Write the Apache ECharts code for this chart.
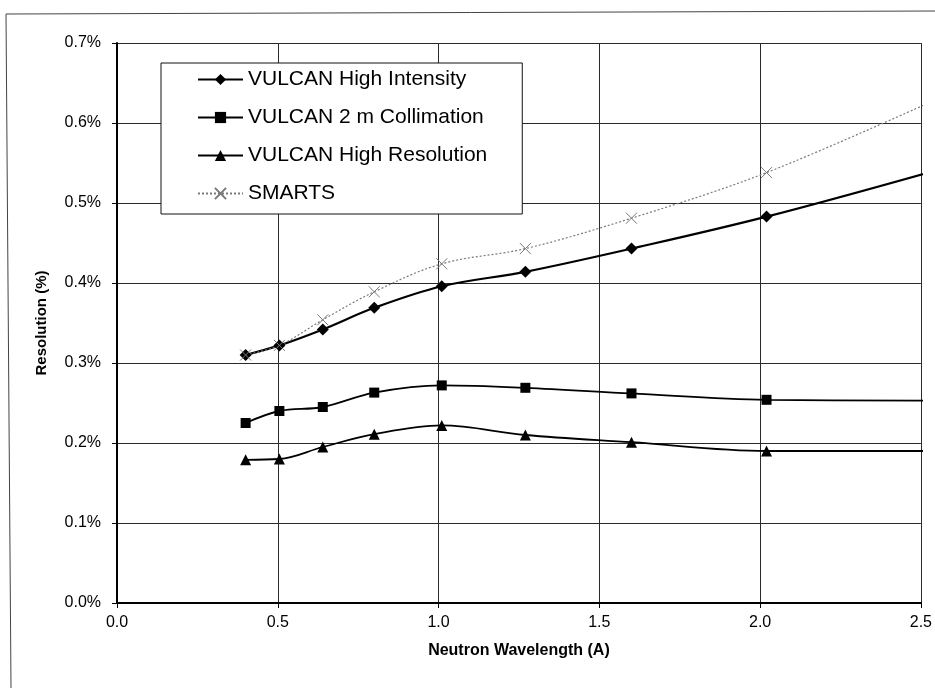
<!DOCTYPE html>
<html>
<head>
<meta charset="utf-8">
<script src="https://cdn.jsdelivr.net/npm/echarts@6/dist/echarts.min.js"></script>
<style>
html,body{margin:0;padding:0;background:#fff;}
#chart{width:935px;height:688px;}
</style>
</head>
<body>
<div id="chart"></div>
<script>
// Neutron wavelength (A)
const wavelengths = [0.40, 0.505, 0.64, 0.80, 1.01, 1.27, 1.60, 2.02, 2.54];
// Resolution (%)
const highIntensity  = [0.310, 0.322, 0.342, 0.369, 0.396, 0.414, 0.443, 0.483, 0.540];
const collimation2m  = [0.225, 0.240, 0.245, 0.263, 0.272, 0.269, 0.262, 0.254, 0.253];
const highResolution = [0.179, 0.180, 0.195, 0.211, 0.222, 0.210, 0.201, 0.190, 0.190];
const smarts         = [0.310, 0.322, 0.354, 0.389, 0.424, 0.443, 0.481, 0.538, 0.628];

const seriesNames = ['VULCAN High Intensity', 'VULCAN 2 m Collimation', 'VULCAN High Resolution', 'SMARTS'];
const xTicks = { min: 0, max: 2.5, interval: 0.5 };
const yTicks = { min: 0, max: 0.7, interval: 0.1 };

const FONT = '"Liberation Sans", Arial, sans-serif';
const pairs = ys => wavelengths.map((x, i) => [x, ys[i]]);
const sizeFn = s => (v => v[0] > xTicks.max ? 0 : s);

const chart = echarts.init(document.getElementById('chart'), null, { renderer: 'canvas' });
chart.setOption({
  backgroundColor: '#fff',
  animation: false,
  textStyle: { fontFamily: FONT, color: '#000' },
  grid: { left: 117, right: 13, top: 43, bottom: 85, containLabel: false },
  graphic: [{
    type: 'polyline',
    shape: { points: [[11, 688], [6, 14], [935, 11]] },
    style: { stroke: '#444', lineWidth: 1, fill: null },
    silent: true
  }],
  legend: {
    orient: 'vertical',
    left: 161, top: 63,
    backgroundColor: '#fff',
    borderColor: '#111', borderWidth: 1,
    padding: [6, 35, 10, 36],
    itemWidth: 45, itemHeight: 14, itemGap: 17,
    textStyle: { fontFamily: FONT, fontSize: 21, color: '#000', lineHeight: 20 },
    data: seriesNames
  },
  xAxis: {
    type: 'value', min: xTicks.min, max: xTicks.max, interval: xTicks.interval,
    name: 'Neutron Wavelength (A)', nameLocation: 'middle', nameGap: 40,
    nameTextStyle: { fontFamily: FONT, fontSize: 16, fontWeight: 'bold', color: '#000' },
    axisLine: { show: true, onZero: false, lineStyle: { color: '#000', width: 2 } },
    axisTick: { show: true, length: 5, lineStyle: { color: '#000' } },
    axisLabel: { fontFamily: FONT, fontSize: 16, color: '#000', margin: 12, formatter: v => v.toFixed(1) },
    splitLine: { show: true, lineStyle: { color: '#2a2a2a', width: 1 } }
  },
  yAxis: {
    type: 'value', min: yTicks.min, max: yTicks.max, interval: yTicks.interval,
    name: 'Resolution (%)', nameLocation: 'middle', nameGap: 68,
    nameTextStyle: { fontFamily: FONT, fontSize: 15, fontWeight: 'bold', color: '#000' },
    axisLine: { show: true, lineStyle: { color: '#000', width: 2 } },
    axisTick: { show: true, length: 5, lineStyle: { color: '#000' } },
    axisLabel: { fontFamily: FONT, fontSize: 16, color: '#000', margin: 16, formatter: v => v.toFixed(1) + '%' },
    splitLine: { show: true, lineStyle: { color: '#2a2a2a', width: 1 } }
  },
  series: [
    {
      name: seriesNames[0], type: 'line', data: pairs(highIntensity), smooth: 0.35, clip: false,
      symbol: 'diamond', symbolSize: sizeFn(12),
      lineStyle: { color: '#000', width: 2.2 }, itemStyle: { color: '#000' }
    },
    {
      name: seriesNames[1], type: 'line', data: pairs(collimation2m), smooth: 0.35, clip: false,
      symbol: 'rect', symbolSize: sizeFn(10),
      lineStyle: { color: '#000', width: 1.8 }, itemStyle: { color: '#000' }
    },
    {
      name: seriesNames[2], type: 'line', data: pairs(highResolution), smooth: 0.35, clip: false,
      symbol: 'triangle', symbolSize: sizeFn(11),
      lineStyle: { color: '#000', width: 1.8 }, itemStyle: { color: '#000' }
    },
    {
      name: seriesNames[3], type: 'line', data: pairs(smarts), smooth: 0.35, clip: false,
      symbol: 'path://M0,0L10,10M0,10L10,0', symbolSize: sizeFn(11),
      lineStyle: { color: '#7a7a7a', width: 1.2, type: [2, 2] },
      itemStyle: { color: 'rgba(0,0,0,0)', borderColor: '#7a7a7a', borderWidth: 1 }
    }
  ]
});
</script>
</body>
</html>
